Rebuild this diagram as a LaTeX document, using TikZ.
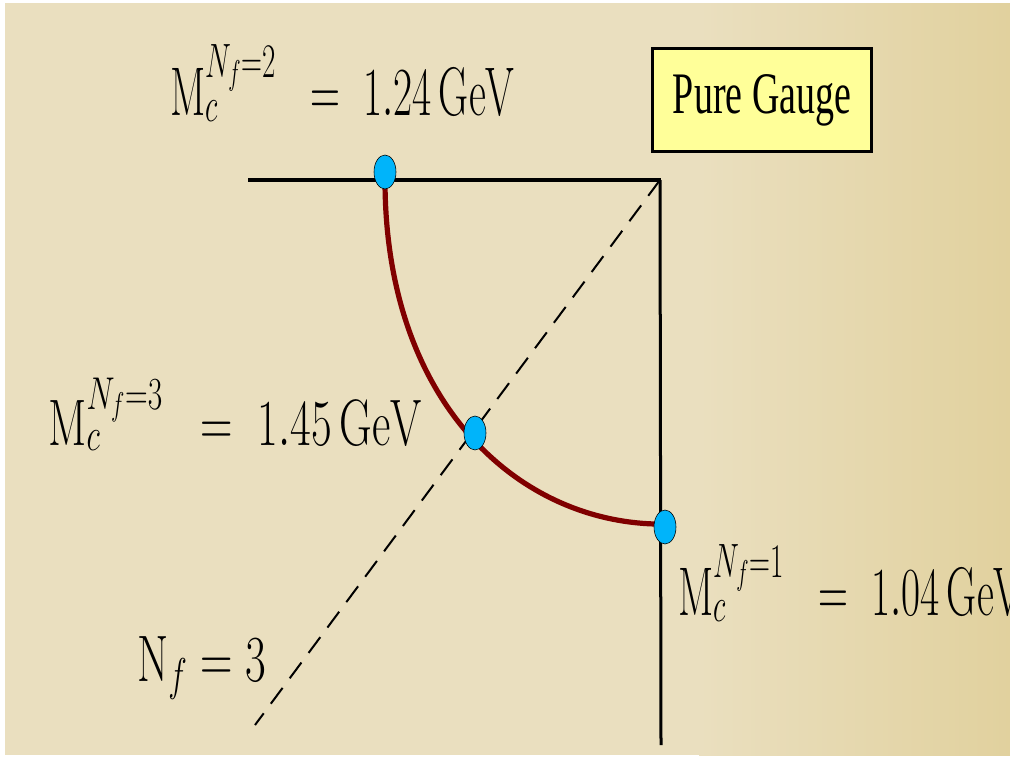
\RequirePackage{fix-cm}
\documentclass[tikz,border=0pt]{standalone}
\usepackage{fontspec}
\newfontfamily\boxfont{Liberation Serif}
\usepackage{amsmath}
\usepackage{graphicx}
\usetikzlibrary{shapes.geometric}
\definecolor{paper}{RGB}{234,223,191}
\definecolor{paperdark}{RGB}{225,209,158}
\definecolor{dotblue}{RGB}{0,180,250}
\definecolor{curvered}{RGB}{128,0,0}
\definecolor{boxyellow}{RGB}{255,255,153}
\newcommand{\tall}[2][1.66]{\scalebox{1}[#1]{#2}}
\newcommand{\wideeq}{\mkern10mu=\mkern5mu}

\begin{document}
\begin{tikzpicture}[x=0.025cm,y=-0.025cm,
  dot/.style={ellipse, draw=black, line width=0.4pt, fill=dotblue,
    minimum width=0.55cm, minimum height=0.85cm, inner sep=0pt},
  label/.style={anchor=base west, inner sep=0pt, font=\fontsize{29.5}{35}\selectfont},
  biglabel/.style={label, font=\fontsize{32}{38}\selectfont}]
  %% background
  \fill[white] (0,0) rectangle (1010,757);
  \fill[paper] (5,3) rectangle (700,755);
  \shade[left color=paper, right color=paperdark] (699,3) rectangle (1010,755);
  \useasboundingbox (0,0) rectangle (1010,757);
  %% lines
  \coordinate (corner) at (660,180);
  \coordinate (left) at (248,180);
  \coordinate (bottom) at (661,745);
  \coordinate (diag) at (255,725);
  \draw[line width=1mm] (left) -- (661,180);
  \draw[line width=0.75mm] (corner) -- (bottom);
  \draw[line width=0.5mm, dash pattern=on 14pt off 8.5pt] (corner) -- (diag);
  %% critical line and points
  \draw[curvered, line width=1.3mm] (385,180) .. controls (385,400) and (515,520) .. (655,524);
  \node[dot] (m2) at (385,172) {};
  \node[dot] (m3) at (475,433) {};
  \node[dot] (m1) at (665,527) {};
  %% labels
  \node[label] (l2) at (170,115) {\tall{$\mathrm{M}_c^{N_f=2}\wideeq 1.24\,\mathrm{GeV}$}};
  \node[biglabel] (l3) at (48,445) {\tall[1.46]{$\mathrm{M}_c^{N_f=3}\wideeq 1.45\,\mathrm{GeV}$}};
  \node[label] (l1) at (678,615) {\tall{$\mathrm{M}_c^{N_f=1}\wideeq 1.04\,\mathrm{GeV}$}};
  \node[biglabel] (nf) at (137,681) {\tall[1.46]{$\mathrm{N}_f=3$}};
  \node[draw=black, line width=0.75mm, fill=boxyellow, minimum width=5.45cm,
    minimum height=2.55cm, font=\boxfont\fontsize{27}{32}\selectfont] (pg) at (762,100)
    {\tall[1.55]{\raisebox{-0.08cm}{Pure Gauge}}};
\end{tikzpicture}
\end{document}
